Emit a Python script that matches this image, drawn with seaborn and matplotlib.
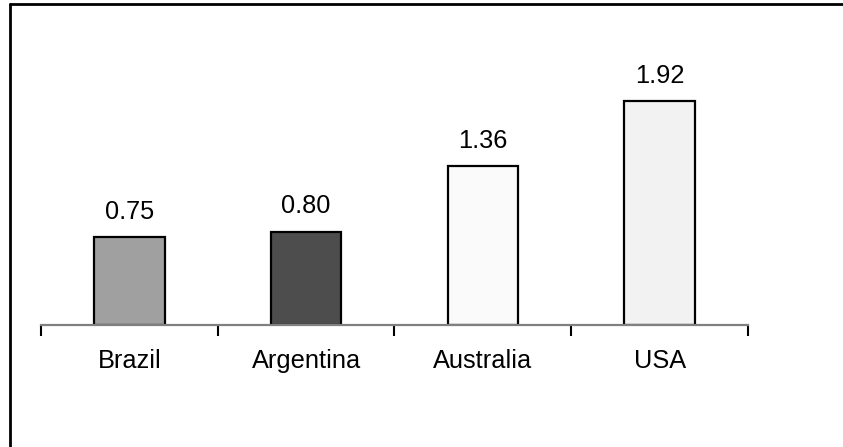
import matplotlib
matplotlib.use("Agg")
import matplotlib.pyplot as plt
import seaborn as sns
import pandas as pd
from matplotlib.lines import Line2D

# Data
countries = ["Brazil", "Argentina", "Australia", "USA"]
values = [0.75, 0.80, 1.36, 1.92]
bar_colors = ["#a0a0a0", "#4d4d4d", "#fafafa", "#f2f2f2"]

df = pd.DataFrame({"country": countries, "value": values})

sns.set_style("white")
plt.rcParams["font.family"] = ["Liberation Sans", "DejaVu Sans"]
plt.rcParams["text.color"] = "black"
plt.rcParams["xtick.color"] = "black"
plt.rcParams["xtick.labelcolor"] = "black"

fig = plt.figure(figsize=(8.43, 4.47), dpi=100)
ax = fig.add_axes([41 / 843, 1 - 325 / 447, 707 / 843, 278 / 447])

sns.barplot(data=df, x="country", y="value", hue="country",
            palette=dict(zip(countries, bar_colors)), width=0.4,
            edgecolor="black", linewidth=1.6, legend=False, ax=ax)

for patch, v in zip(ax.patches, values):
    ax.text(patch.get_x() + patch.get_width() / 2, v + 0.155, f"{v:.2f}",
            ha="center", va="baseline", fontsize=18.3, color="black")

ax.set_xlim(-0.5, len(countries) - 0.5)
ax.set_ylim(0, 2.38)

# Category boundary ticks, labels centred under the bars
ax.set_xticks([i - 0.5 for i in range(len(countries) + 1)])
ax.set_xticklabels([])
ax.set_xticks(range(len(countries)), minor=True)
ax.set_xticklabels(countries, minor=True, fontsize=18.3, color="black")
ax.tick_params(axis="x", which="major", direction="out", length=8,
               width=1.5, color="black", bottom=True)
ax.tick_params(axis="x", which="minor", length=0, pad=17)
ax.set_yticks([])
ax.set_xlabel("")
ax.set_ylabel("")

for side in ["top", "right", "left"]:
    ax.spines[side].set_visible(False)
ax.spines["bottom"].set_color("#808080")
ax.spines["bottom"].set_linewidth(1.6)
ax.set_facecolor("none")

# Outer frame (top and left edges)
fig.add_artist(Line2D([10 / 843, 1.0], [1 - 4 / 447, 1 - 4 / 447],
                      transform=fig.transFigure, color="black", linewidth=2))
fig.add_artist(Line2D([10 / 843, 10 / 843], [0.0, 1 - 4 / 447],
                      transform=fig.transFigure, color="black", linewidth=2))

fig.savefig("out.png", dpi=100)
